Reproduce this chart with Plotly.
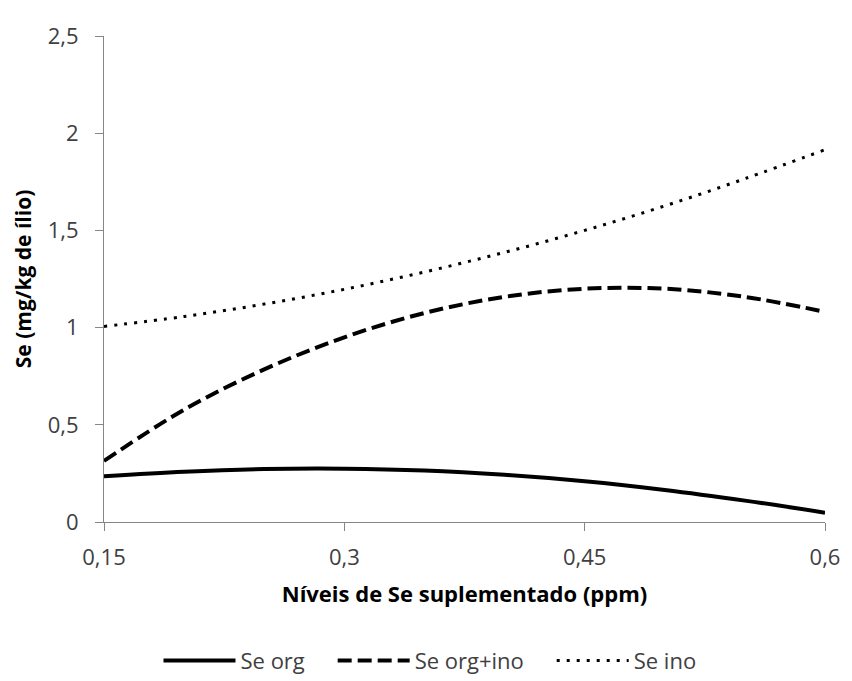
import plotly.graph_objects as go

x_levels = [0.15, 0.20, 0.25, 0.30, 0.35, 0.40, 0.45, 0.50, 0.55, 0.60]
se_org = [0.235, 0.258, 0.272, 0.274, 0.265, 0.243, 0.210, 0.165, 0.110, 0.048]
se_org_ino = [0.314, 0.578, 0.785, 0.950, 1.075, 1.158, 1.200, 1.200, 1.158, 1.081]
se_ino = [1.006, 1.057, 1.121, 1.197, 1.286, 1.387, 1.500, 1.626, 1.766, 1.915]

series_names = ["Se org", "Se org+ino", "Se ino"]

x_tickvals = [0.15, 0.30, 0.45, 0.60]
x_ticktext = ["0,15", "0,3", "0,45", "0,6"]
y_tickvals = [0, 0.5, 1, 1.5, 2, 2.5]
y_ticktext = ["0", "0,5", "1", "1,5", "2", "2,5"]

FONT = "'Open Sans', sans-serif"
PAD = "\u00a0" * 4

fig = go.Figure()
fig.add_trace(go.Scatter(x=x_levels, y=se_org, name=series_names[0] + PAD, mode="lines",
                         line=dict(color="black", width=4, shape="spline")))
fig.add_trace(go.Scatter(x=x_levels, y=se_org_ino, name=series_names[1] + PAD, mode="lines",
                         line=dict(color="black", width=4, shape="spline", dash="14px,6px")))
fig.add_trace(go.Scatter(x=x_levels, y=se_ino, name=series_names[2], mode="lines",
                         line=dict(color="black", width=3, shape="spline", dash="3px,7px")))

fig.update_layout(
    width=844, height=673,
    margin=dict(l=96, r=18, t=18, b=159),
    paper_bgcolor="white", plot_bgcolor="white",
    font=dict(family=FONT, size=22, color="#404040"),
    showlegend=True,
    legend=dict(orientation="h", xref="container", yref="container",
                x=0.5, xanchor="center", y=0.03, yanchor="middle",
                font=dict(size=22, color="#404040"), itemwidth=72,
                traceorder="normal"),
    xaxis=dict(range=[0.15, 0.6], tickvals=x_tickvals, ticktext=x_ticktext,
               showgrid=False, zeroline=False, showline=True, linecolor="#868686",
               linewidth=1, ticks="outside", ticklen=8, tickcolor="#868686",
               ticklabelstandoff=8,
               title=dict(text="<b>Níveis de Se suplementado (ppm)</b>",
                          font=dict(size=22, color="black"), standoff=16)),
    yaxis=dict(range=[0, 2.5], tickvals=y_tickvals, ticktext=y_ticktext,
               showgrid=False, zeroline=False, showline=True, linecolor="#868686",
               linewidth=1, ticks="outside", ticklen=8, tickcolor="#868686",
               ticklabelstandoff=12,
               title=dict(text="<b>Se (mg/kg de ílio)</b>",
                          font=dict(size=21, color="black"), standoff=10)),
)

fig.write_html("out.html")
